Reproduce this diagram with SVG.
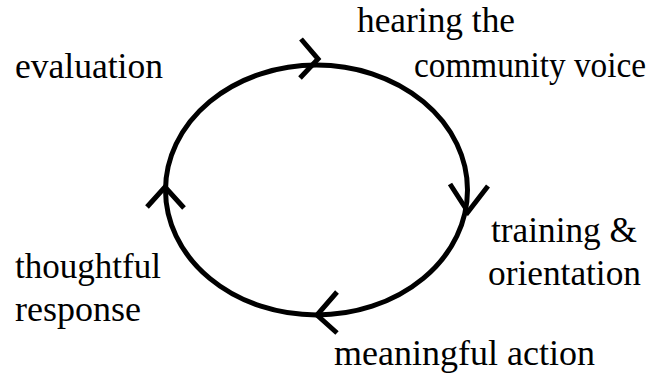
<svg xmlns="http://www.w3.org/2000/svg" width="653" height="374" viewBox="0 0 653 374">
<style>
.lbl{font-family:'Liberation Serif', 'DejaVu Serif', 'Noto Serif', serif;font-size:36px;fill:#000}
.ln{fill:none;stroke:#000;stroke-width:5;stroke-linecap:butt}
</style>
<rect width="653" height="374" fill="#fff"/>
<g id="connectors">
<ellipse class="ln" cx="316.5" cy="190" rx="151" ry="125"/>
<polyline class="ln" points="301,39 318,59 300,78"/>
<polyline class="ln" points="450,184 468,212 488,186"/>
<polyline class="ln" points="337,292 317,315 337,333"/>
<polyline class="ln" points="147,207 165,187 184,208"/>
</g>
<g id="n-hearing"><text class="lbl" x="357" y="32" textLength="158" lengthAdjust="spacingAndGlyphs">hearing the</text><text class="lbl" x="414" y="77" textLength="232" lengthAdjust="spacingAndGlyphs">community voice</text></g>
<g id="n-training"><text class="lbl" x="491" y="242" textLength="146" lengthAdjust="spacingAndGlyphs">training &amp;</text><text class="lbl" x="488" y="285" textLength="153" lengthAdjust="spacingAndGlyphs">orientation</text></g>
<g id="n-action"><text class="lbl" x="334" y="365" textLength="261" lengthAdjust="spacingAndGlyphs">meaningful action</text></g>
<g id="n-response"><text class="lbl" x="15" y="278" textLength="146" lengthAdjust="spacingAndGlyphs">thoughtful</text><text class="lbl" x="15" y="321" textLength="126" lengthAdjust="spacingAndGlyphs">response</text></g>
<g id="n-evaluation"><text class="lbl" x="15" y="78" textLength="148" lengthAdjust="spacingAndGlyphs">evaluation</text></g>
</svg>
